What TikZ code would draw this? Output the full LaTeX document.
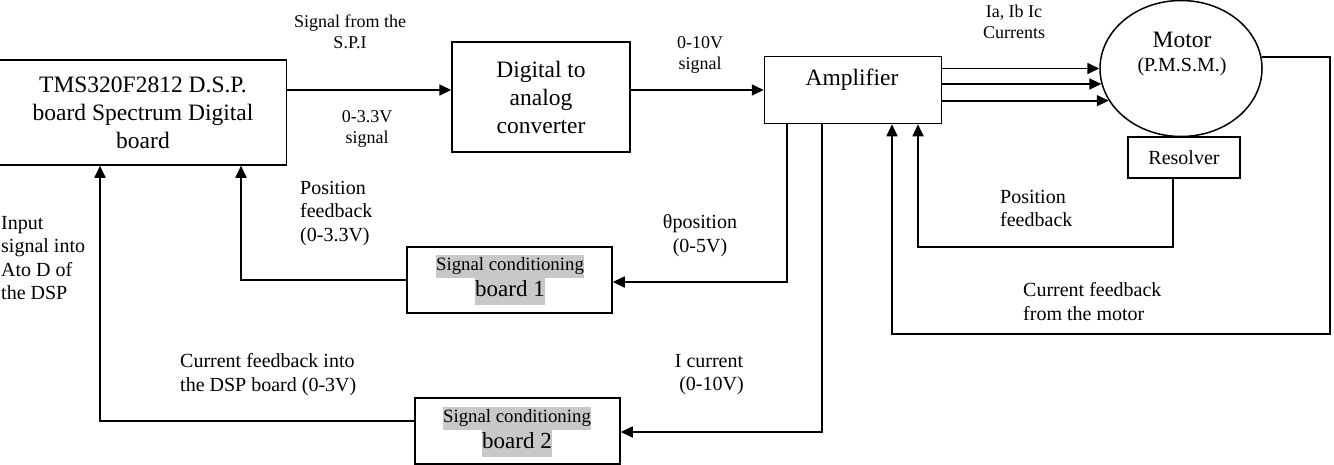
\documentclass[tikz,border=0pt]{standalone}
\usepackage{fontspec}
\setmainfont{Liberation Serif}
\usetikzlibrary{arrows.meta,shapes.geometric}
\definecolor{hlgray}{HTML}{C8C8C8}
\newcommand\hlbox[1]{{\setlength{\fboxsep}{0.5pt}\colorbox{hlgray}{\strut #1}}}
\begin{document}
\begin{tikzpicture}[x=1pt,y=-1pt,
  blk/.style={draw, line width=1.5pt, inner sep=0pt, align=center},
  big/.style={font=\fontsize{23.5}{28}\selectfont},
  mid/.style={font=\fontsize{20}{23.3}\selectfont},
  small/.style={font=\fontsize{18}{21}\selectfont},
  lbl/.style={inner sep=0pt},
  wire/.style={line width=1.7pt},
  arr/.style={wire, -{Triangle[length=12pt,width=11pt]}}]
\useasboundingbox (0,0) rectangle (1334,464);
\clip (0,0) rectangle (1334,464);

% blocks
\node[blk, big, minimum width=287pt, minimum height=105pt] (dsp) at (143,112.5)
  {TMS320F2812 D.S.P.\\board Spectrum Digital\\board};
\node[blk, big, minimum width=178pt, minimum height=110pt] (dac) at (541,97)
  {Digital to\\analog\\converter};
\node[blk, minimum width=177pt, minimum height=67pt] (amp) at (853,90) {};
\node[lbl, big] (amptxt) at (852,80) {Amplifier};
\node[draw, ellipse, line width=1.5pt, inner sep=0pt, minimum width=162pt, minimum height=136pt] (motor) at (1181,68.5) {};
\node[lbl, big] (mtxt) at (1182,40) {Motor};
\node[lbl, mid] (ptxt) at (1182,67) {(P.M.S.M.)};
\node[blk, mid, minimum width=112pt, minimum height=41pt] (res) at (1184,157.5) {Resolver};
\node[blk, minimum width=205pt, minimum height=66pt] (sc1) at (509.5,280) {};
\node[lbl, font=\fontsize{18.8}{22}\selectfont] (sc1a) at (510,266) {\hlbox{Signal conditioning}};
\node[lbl, font=\fontsize{23}{26}\selectfont] (sc1b) at (510,291) {\hlbox{board 1}};
\node[blk, minimum width=205pt, minimum height=66pt] (sc2) at (517.5,431) {};
\node[lbl, font=\fontsize{18.8}{22}\selectfont] (sc2a) at (517,418) {\hlbox{Signal conditioning}};
\node[lbl, font=\fontsize{23}{26}\selectfont] (sc2b) at (517,443) {\hlbox{board 2}};

% helper coordinates for the wire routes
\coordinate (xa) at (787,0);
\coordinate (xb) at (822,0);
\coordinate (xe) at (918,0);
\coordinate (xf) at (892,0);
\coordinate (xr) at (1330,0);
\coordinate (rx) at (1173,0);
\coordinate (xc) at (241,0);
\coordinate (xd) at (100,0);
\coordinate (pfy) at (0,247);
\coordinate (cfy) at (0,334);

% forward path
\draw[arr] (dsp.east |- amp) -- (dac.west |- amp);
\draw[arr] (dac.east |- amp) -- (amp.west);
\draw[arr] (amp.east |- motor.180) -- (motor.180);
\draw[arr] (amp.east |- motor.191.4) -- (motor.191.4);
\draw[arr] (amp.east |- motor.204.1) -- (motor.204.1);

% feedback from motor and resolver
\draw[arr] (motor.8.6) -- (xr |- motor.8.6) -- (xr |- cfy) -| (amp.south -| xf);
\draw[arr] (res.south -| rx) -- (rx |- pfy) -| (amp.south -| xe);

% signal conditioning paths
\draw[arr] (amp.south -| xa) |- ([yshift=-2pt]sc1.east);
\draw[arr] (amp.south -| xb) |- ([yshift=-1pt]sc2.east);
\draw[arr] (sc1.west) -| (dsp.south -| xc);
\draw[arr] ([yshift=10pt]sc2.west) -| (dsp.south -| xd);

% labels
\node[lbl, small, align=center] (l1) at (350,32) {Signal from the\\S.P.I};
\node[lbl, small, align=center] (l2) at (367,129) {0-3.3V\\signal};
\node[lbl, small, align=center] (l3) at (700,55) {0-10V\\signal};
\node[lbl, small, align=center] (l4) at (1014,22) {Ia, Ib Ic\\Currents};
\node[lbl, mid, align=left, anchor=west] (l5) at (1000,208.5) {Position\\feedback};
\node[lbl, mid, align=left, anchor=west] (l6) at (1023,301.5) {Current feedback\\from the motor};
\node[lbl, mid, align=center] (l7) at (700,235.5) {θposition\\(0-5V)};
\node[lbl, mid, align=center] (l8) at (709,374.5) {I current\\\ (0-10V)};
\node[lbl, mid, align=left, anchor=west] (l9) at (300,213.5) {Position\\feedback\\(0-3.3V)};
\node[lbl, mid, align=left, anchor=west] (l10) at (180,374.5) {Current feedback into\\the DSP board (0-3V)};
\node[lbl, mid, align=left, anchor=west] (l11) at (1,258) {Input\\signal into\\Ato D of\\the DSP};
\end{tikzpicture}
\end{document}
